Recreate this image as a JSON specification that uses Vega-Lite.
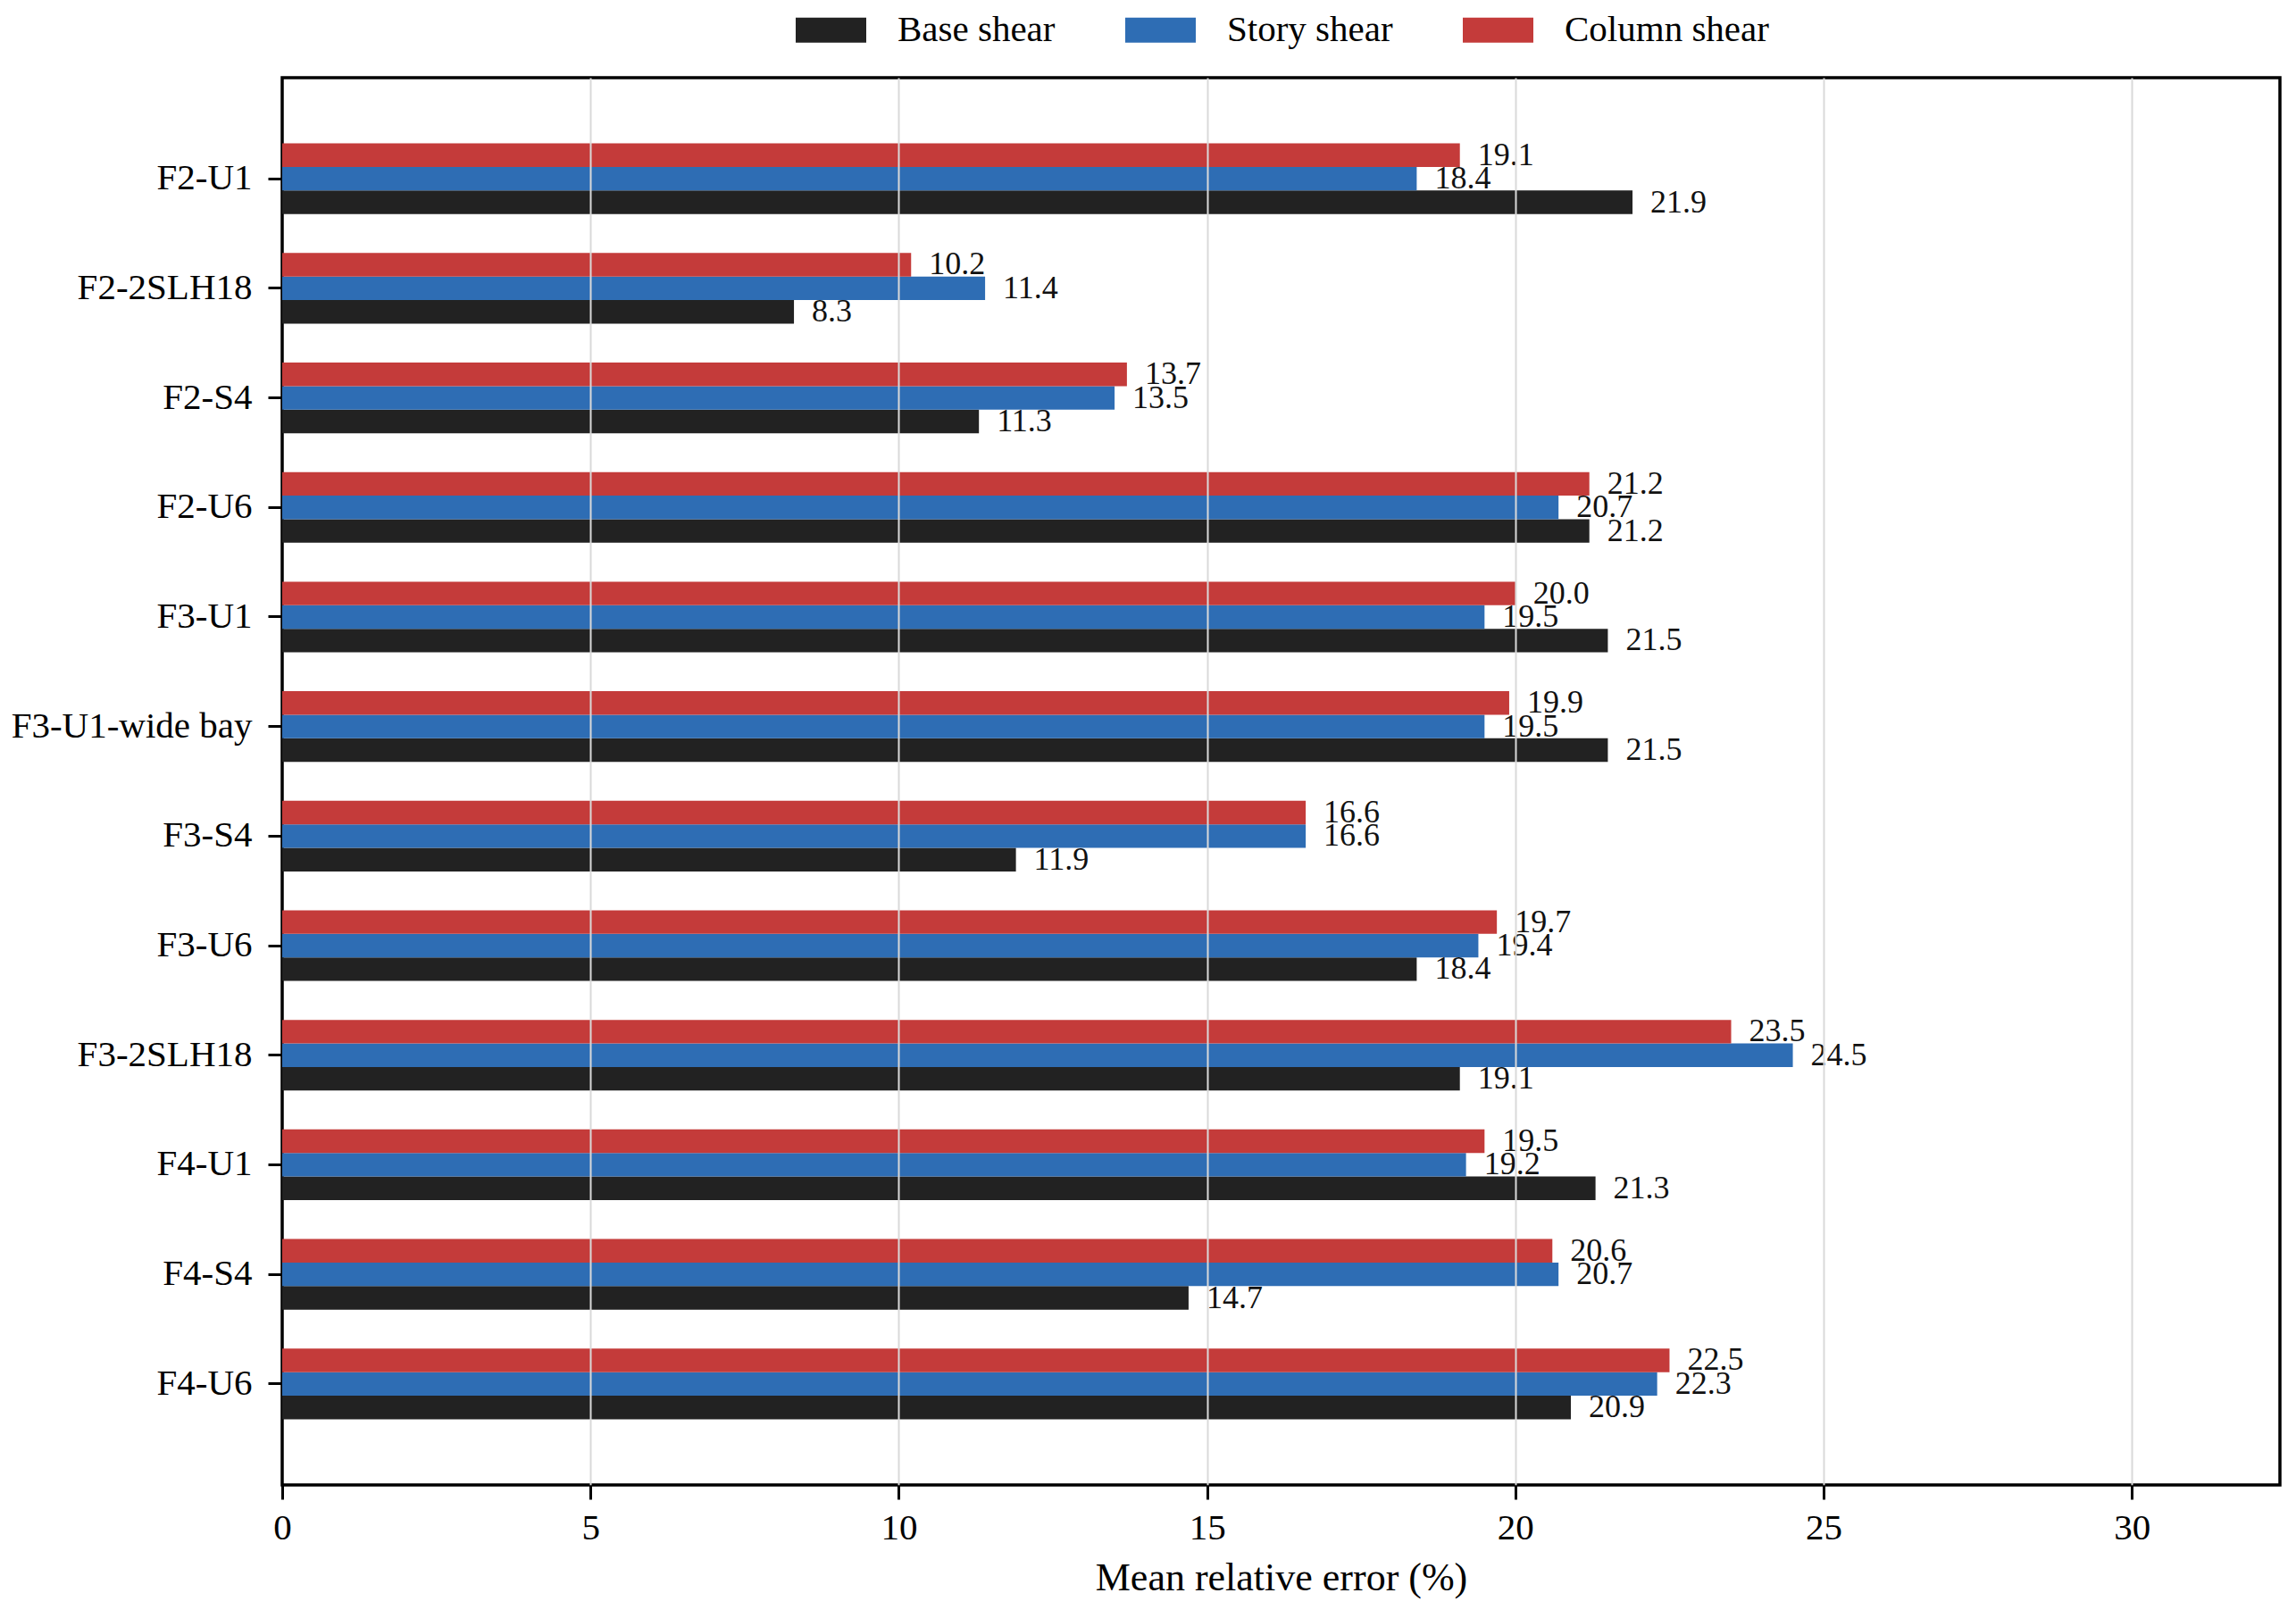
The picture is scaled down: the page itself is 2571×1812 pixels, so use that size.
{
  "$schema": "https://vega.github.io/schema/vega-lite/v6.json",
  "width": 2237,
  "height": 1576,
  "autosize": {"type": "none"},
  "padding": {"left": 316, "top": 87, "right": 18, "bottom": 149},
  "background": "white",
  "config": {
    "font": "Liberation Serif",
    "view": {"stroke": "black", "strokeWidth": 3.5}
  },
  "data": {
    "values": [
      {"model": "F2-U1", "type": "Base shear", "error": 21.9},
      {"model": "F2-U1", "type": "Story shear", "error": 18.4},
      {"model": "F2-U1", "type": "Column shear", "error": 19.1},
      {"model": "F2-2SLH18", "type": "Base shear", "error": 8.3},
      {"model": "F2-2SLH18", "type": "Story shear", "error": 11.4},
      {"model": "F2-2SLH18", "type": "Column shear", "error": 10.2},
      {"model": "F2-S4", "type": "Base shear", "error": 11.3},
      {"model": "F2-S4", "type": "Story shear", "error": 13.5},
      {"model": "F2-S4", "type": "Column shear", "error": 13.7},
      {"model": "F2-U6", "type": "Base shear", "error": 21.2},
      {"model": "F2-U6", "type": "Story shear", "error": 20.7},
      {"model": "F2-U6", "type": "Column shear", "error": 21.2},
      {"model": "F3-U1", "type": "Base shear", "error": 21.5},
      {"model": "F3-U1", "type": "Story shear", "error": 19.5},
      {"model": "F3-U1", "type": "Column shear", "error": 20.0},
      {"model": "F3-U1-wide bay", "type": "Base shear", "error": 21.5},
      {"model": "F3-U1-wide bay", "type": "Story shear", "error": 19.5},
      {"model": "F3-U1-wide bay", "type": "Column shear", "error": 19.9},
      {"model": "F3-S4", "type": "Base shear", "error": 11.9},
      {"model": "F3-S4", "type": "Story shear", "error": 16.6},
      {"model": "F3-S4", "type": "Column shear", "error": 16.6},
      {"model": "F3-U6", "type": "Base shear", "error": 18.4},
      {"model": "F3-U6", "type": "Story shear", "error": 19.4},
      {"model": "F3-U6", "type": "Column shear", "error": 19.7},
      {"model": "F3-2SLH18", "type": "Base shear", "error": 19.1},
      {"model": "F3-2SLH18", "type": "Story shear", "error": 24.5},
      {"model": "F3-2SLH18", "type": "Column shear", "error": 23.5},
      {"model": "F4-U1", "type": "Base shear", "error": 21.3},
      {"model": "F4-U1", "type": "Story shear", "error": 19.2},
      {"model": "F4-U1", "type": "Column shear", "error": 19.5},
      {"model": "F4-S4", "type": "Base shear", "error": 14.7},
      {"model": "F4-S4", "type": "Story shear", "error": 20.7},
      {"model": "F4-S4", "type": "Column shear", "error": 20.6},
      {"model": "F4-U6", "type": "Base shear", "error": 20.9},
      {"model": "F4-U6", "type": "Story shear", "error": 22.3},
      {"model": "F4-U6", "type": "Column shear", "error": 22.5}
    ]
  },
  "encoding": {
    "y": {
      "field": "model",
      "type": "nominal",
      "sort": null,
      "scale": {"paddingInner": 0.355, "paddingOuter": 0.6},
      "axis": {
        "title": null,
        "domain": false,
        "grid": false,
        "labelFontSize": 41,
        "labelColor": "black",
        "labelPadding": 18,
        "labelLimit": 0,
        "tickColor": "black",
        "tickWidth": 3,
        "tickSize": 16
      }
    },
    "yOffset": {
      "field": "type",
      "type": "nominal",
      "sort": ["Column shear", "Story shear", "Base shear"],
      "scale": {"paddingInner": 0, "paddingOuter": 0}
    },
    "x": {
      "field": "error",
      "type": "quantitative",
      "scale": {"domain": [0, 32.4], "nice": false},
      "axis": {
        "title": "Mean relative error (%)",
        "titleFontSize": 44,
        "titleFontWeight": "normal",
        "titleColor": "black",
        "titlePadding": 14,
        "values": [0, 5, 10, 15, 20, 25, 30],
        "domain": false,
        "grid": true,
        "gridColor": "#d9d9d9",
        "gridWidth": 2,
        "gridOpacity": {"condition": {"test": "datum.value === 0", "value": 0}, "value": 1},
        "zindex": 1,
        "labelFontSize": 41,
        "labelColor": "black",
        "labelPadding": 12,
        "labelFlush": false,
        "tickColor": "black",
        "tickWidth": 3,
        "tickSize": 16
      }
    }
  },
  "layer": [
    {
      "mark": {"type": "bar"},
      "encoding": {
        "color": {
          "field": "type",
          "type": "nominal",
          "scale": {
            "domain": ["Base shear", "Story shear", "Column shear"],
            "range": ["#222222", "#2e6db4", "#c43b3a"]
          },
          "legend": {
            "title": null,
            "orient": "none",
            "direction": "horizontal",
            "legendX": 575,
            "legendY": -93,
            "symbolType": "M-1,-0.355L1,-0.355L1,0.355L-1,0.355Z",
            "symbolSize": 6241,
            "symbolStrokeWidth": 0,
            "symbolOpacity": 1,
            "labelFontSize": 41,
            "labelColor": "black",
            "labelLimit": 0,
            "labelOffset": 35,
            "columnPadding": 78
          }
        }
      }
    },
    {
      "mark": {
        "type": "text",
        "align": "left",
        "baseline": "middle",
        "dx": 20,
        "fontSize": 36,
        "color": "#111111"
      },
      "encoding": {
        "text": {"field": "error", "type": "quantitative", "format": ".1f"}
      }
    }
  ]
}
